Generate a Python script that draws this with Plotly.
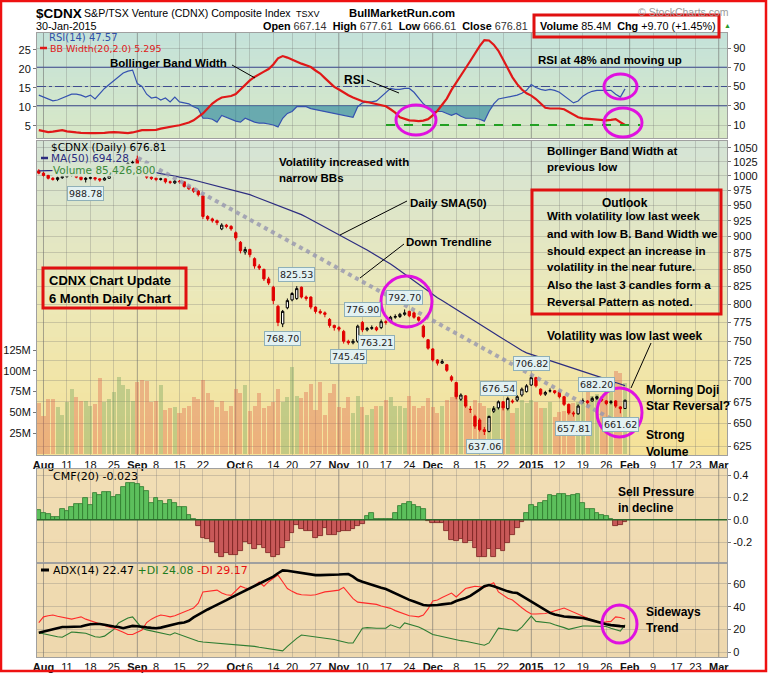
import numpy as np
import pandas as pd
import plotly.graph_objects as go

W, H = 769, 673

# ---------------- trading calendar (x scale) ----------------
FIRST_DAY = "2014-07-31"
LAST_AXIS_DAY = "2015-03-06"
TSX_HOLIDAYS = ["2014-08-04", "2014-09-01", "2014-10-13", "2014-12-25",
                "2014-12-26", "2015-01-01", "2015-02-16"]
TICK_DATES = ["2014-08-01", "2014-08-11", "2014-08-18", "2014-08-25", "2014-09-02", "2014-09-08",
              "2014-09-15", "2014-09-22", "2014-10-01", "2014-10-06", "2014-10-14", "2014-10-20",
              "2014-10-27", "2014-11-03", "2014-11-10", "2014-11-17", "2014-11-24", "2014-12-01",
              "2014-12-08", "2014-12-15", "2014-12-22", "2015-01-02", "2015-01-12", "2015-01-19",
              "2015-01-26", "2015-02-02", "2015-02-09", "2015-02-17", "2015-02-23", "2015-03-02"]
TICK_TEXT = ["<b>Aug</b>", "11", "18", "25", "<b>Sep</b>", "8", "15", "22", "<b>Oct</b>", "6", "14", "20",
             "27", "<b>Nov</b>", "10", "17", "24", "<b>Dec</b>", "8", "15", "22", "<b>2015</b>", "12", "19",
             "26", "<b>Feb</b>", "9", "17", "23", "<b>Mar</b>"]

# ---------------- daily data (31-Jul-2014 .. 30-Jan-2015) ----------------
OPEN = [1009, 1005, 1001, 996, 994, 997, 999, 1001, 1002, 998,
        994, 996, 997, 995, 993, 996, 1001, 1008, 1012, 1018,
        1023, 1030, 1010, 1003, 998, 996, 994, 995, 990, 988,
        991, 990, 982, 978, 974, 966, 932, 928, 925, 912,
        918, 916, 906, 891, 876, 880, 866, 855, 850, 836,
        824, 797, 773, 795, 806, 808, 824, 810, 810, 796,
        790, 788, 779, 771, 768, 763, 750, 748, 750, 775,
        765, 767, 768, 768, 776, 776, 782, 783, 786, 790,
        788, 782, 770, 752, 740, 726, 722, 720, 705, 698,
        678, 682, 666, 658, 654, 643, 641, 664, 668, 675,
        667, 676, 677, 683, 687, 695, 704, 690, 684, 688,
        688, 686, 681, 672, 662, 661, 675, 676, 676, 679,
        678, 676, 674, 676, 669, 667.14]
HIGH = [1012, 1007, 1002, 998, 999, 1001, 1003, 1004, 1003, 999,
        998, 999, 998, 996, 998, 1003, 1009, 1014, 1019, 1024,
        1027, 1036, 1012, 1005, 1000, 997, 997, 996, 992, 993,
        993, 991, 984, 980, 976, 968, 934, 930, 927, 921,
        920, 918, 908, 893, 884, 881, 868, 858, 851, 839,
        826, 799, 792, 808, 817, 825.53, 825, 812, 811, 797,
        793, 790, 781, 772, 770, 765, 752, 753, 772, 776.90,
        769, 771, 770, 779, 778, 784, 786, 788, 792.70, 791,
        790, 783, 772, 753, 741, 727, 727, 721, 707, 699,
        685, 683, 670, 660, 656, 646, 659, 670, 676.54, 676,
        681, 678, 683, 692, 696, 706.82, 705, 691, 688, 691,
        689, 688, 682, 673, 664, 672, 679, 677, 681, 682.20,
        680, 677, 677, 677, 670, 677.61]
LOW = [1003, 999, 994, 992, 991, 995, 997, 999, 996, 992,
       988.78, 994, 992, 990, 992, 995, 1000, 1006, 1010, 1016,
       1019, 1008, 1000, 995, 993, 991, 992, 987, 986, 986,
       987, 980, 976, 971, 965, 928, 925, 922, 918, 910,
       913, 909, 894, 874, 872, 868, 851, 849, 833, 827,
       800, 770, 768.70, 793, 804, 806, 808, 805, 793, 787,
       786, 782, 768, 764, 763, 747, 745.45, 746, 748, 762,
       763, 765, 763.21, 766, 772, 774, 780, 781, 784, 782,
       780, 776, 754, 739, 724, 719, 721, 711, 699, 678,
       676, 668, 662, 644, 641, 637.06, 640, 662, 666, 665,
       665, 673, 675, 681, 686, 694, 692, 682, 682, 686,
       684, 679, 670, 660, 657.81, 660, 673, 671, 675, 677,
       675, 671, 672, 668, 661.62, 666.61]
CLOSE = [1005, 1001, 996, 994, 997, 999, 1001, 1002, 998, 994,
         996, 997, 995, 993, 996, 1001, 1008, 1012, 1018, 1022,
         1024, 1010, 1003, 998, 996, 994, 995, 990, 989, 991,
         990, 982, 978, 974, 968, 932, 928, 925, 922, 918,
         916, 912, 898, 878, 880, 872, 855, 852, 836, 830,
         805, 775, 790, 805, 815, 822, 810, 808, 796, 790,
         788, 786, 771, 768, 766, 750, 748, 750, 770, 765,
         767, 768, 765, 776, 775, 782, 783, 786, 788, 784,
         782, 778, 756, 741, 726, 722, 724, 713, 701, 681,
         683, 670, 666, 647, 643, 641, 658, 667, 675, 668,
         679, 675, 681, 690, 694, 704, 694, 684, 686, 688,
         686, 681, 672, 662, 661, 670, 676, 674, 679, 681,
         677, 673, 675, 670, 667, 676.81]
VOLUME_M = [61, 45, 66, 66, 56, 47, 62, 78, 68, 64,
            64, 57, 60, 91, 62, 66, 75, 92, 83, 78,
            63, 87, 89, 88, 62, 63, 83, 53, 55, 56,
            49, 55, 58, 68, 66, 89, 73, 65, 56, 63,
            52, 58, 78, 73, 83, 52, 57, 73, 55, 57,
            62, 78, 62, 68, 104, 70, 67, 74, 84, 53,
            86, 47, 73, 84, 56, 55, 68, 49, 69, 56,
            47, 54, 57, 57, 65, 68, 57, 57, 55, 69,
            57, 55, 57, 67, 56, 49, 57, 65, 68, 75,
            65, 65, 55, 65, 61, 57, 55, 56, 56, 57,
            65, 49, 55, 65, 61, 65, 62, 55, 55, 62,
            44, 50, 52, 53, 61, 62, 61, 75, 69, 72,
            69, 72, 83, 100, 97, 85.4]
MA50 = [1009, 1009, 1010, 1010, 1010, 1011, 1011, 1011, 1012, 1012,
        1012, 1012, 1013, 1013, 1013, 1013, 1013, 1013, 1013, 1013,
        1012, 1011, 1010, 1009, 1007, 1006, 1004, 1003, 1001, 1000,
        998, 997, 995, 993, 991, 989, 987, 985, 983, 981,
        979, 977, 975, 973, 970, 968, 965, 962, 959, 956,
        953, 950, 947, 944, 941, 938, 935, 931, 927, 923,
        919, 915, 911, 907, 903, 899, 895, 891, 887, 883,
        879, 875, 871, 867, 863, 858, 853, 848, 843, 838,
        833, 828, 823, 818, 813, 809, 805, 801, 797, 793,
        789, 785, 781, 777, 773, 769, 765, 761, 757, 753,
        749, 745, 741, 738, 735, 733, 731, 729, 727, 725,
        723, 721, 719, 717, 715, 713, 711, 709, 707, 705,
        704, 701, 699, 698, 696, 694.28]
RSI14 = [41, 39, 37, 35, 36, 38, 40, 42, 42, 41,
         39, 41, 37, 43, 48, 52, 56, 60, 64, 66,
         67, 53, 50, 42, 38, 39, 36, 38, 34, 39,
         34, 33, 32, 29, 27, 17, 17, 16, 13, 20,
         18, 16, 14, 13, 17, 15, 13, 12, 12, 11,
         10, 8, 17, 22, 24, 29, 29, 29, 27, 26,
         25, 24, 23, 22, 21, 20, 19, 18, 29, 33,
         34, 34, 35, 39, 44, 48, 47, 47, 48, 48,
         44, 38, 32, 28, 24, 24, 24, 22, 20, 22,
         19, 17, 17, 17, 16, 14, 24, 32, 37, 38,
         39, 40, 41, 43, 46, 52, 49, 47, 46, 47,
         46, 44, 40, 36, 33, 35, 40, 43, 45, 46,
         46, 46, 46, 42, 39, 47.57]
BB_WIDTH = [3.9, 3.6, 3.4, 3.5, 3.8, 3.9, 3.6, 3.4, 3.3, 3.2,
            3.1, 3.1, 3.1, 3.1, 3.2, 3.3, 3.4, 3.3, 3.2, 3.1,
            3.3, 3.7, 3.9, 3.9, 3.9, 4.0, 4.3, 4.6, 4.8, 5.0,
            5.2, 5.5, 5.9, 6.5, 7.3, 8.3, 9.6, 10.9, 11.8, 12.5,
            12.7, 12.9, 13.4, 14.6, 15.8, 17.0, 17.9, 18.7, 19.3, 20.0,
            21.2, 22.8, 23.4, 23.0, 22.4, 21.8, 21.4, 21.0, 20.5, 19.6,
            18.8, 17.6, 16.4, 15.3, 14.6, 13.8, 13.1, 12.5, 11.9, 11.5,
            11.3, 11.0, 10.8, 10.5, 10.2, 9.4, 8.5, 7.3, 6.9, 6.5,
            6.4, 6.3, 6.4, 6.8, 7.8, 9.0, 10.6, 12.2, 14.5, 16.5,
            18.3, 20.2, 22.1, 24.2, 26.0, 27.6, 27.5, 26.4, 24.8, 22.5,
            20.0, 17.8, 16.0, 14.6, 13.6, 13.0, 12.1, 10.9, 9.8, 9.6,
            9.6, 9.6, 9.4, 8.7, 7.9, 7.3, 7.0, 6.9, 6.8, 6.6,
            6.5, 6.5, 6.6, 6.8, 6.0, 5.295]
CMF20 = [0.09, 0.06, 0.05, 0.02, 0.02, 0.10, 0.08, 0.11, 0.14, 0.14,
         0.19, 0.13, 0.24, 0.22, 0.25, 0.25, 0.20, 0.22, 0.29, 0.33,
         0.33, 0.32, 0.29, 0.26, 0.15, 0.19, 0.17, 0.14, 0.18, 0.15,
         0.11, 0.11, 0.04, 0.01, -0.06, -0.16, -0.17, -0.20, -0.30, -0.33,
         -0.30, -0.32, -0.32, -0.28, -0.20, -0.22, -0.26, -0.23, -0.25, -0.30,
         -0.33, -0.32, -0.25, -0.19, -0.12, -0.05, -0.08, -0.10, -0.10, -0.16,
         -0.15, -0.07, -0.14, -0.14, -0.11, -0.10, -0.10, -0.08, -0.06, -0.04,
         0.03, 0.06, 0.005, 0.004, 0.004, 0.01, 0.06, 0.12, 0.14, 0.16,
         0.13, 0.11, 0.10, -0.01, -0.03, -0.03, -0.03, -0.10, -0.18, -0.19,
         -0.17, -0.21, -0.19, -0.25, -0.33, -0.33, -0.26, -0.33, -0.26, -0.28,
         -0.21, -0.14, -0.07, -0.02, 0.06, 0.13, 0.11, 0.15, 0.17, 0.22,
         0.21, 0.23, 0.23, 0.21, 0.22, 0.23, 0.15, 0.10, 0.10, 0.06,
         0.04, 0.03, 0.01, -0.06, -0.05, -0.023]
ADX14 = [17, 18, 19, 20, 21, 22, 22, 22, 22, 22.5,
         23.5, 24.5, 24.7, 24.7, 24, 23, 22.5, 22, 21, 22,
         23, 22.7, 22, 21.7, 21.3, 21, 21.5, 22.5, 24, 24.8,
         25.5, 26, 27.5, 30.5, 33, 35.5, 37.5, 39.6, 41.5, 43.7,
         45.8, 48, 50, 52, 54, 56.5, 58.5, 60.5, 62.5, 64.5,
         66.5, 69.5, 72, 71.6, 71, 70, 69.5, 69, 68.3, 67.8,
         67.8, 67.8, 67.8, 68, 68.3, 68.6, 68.7, 66.5, 63.5, 62,
         60.5, 59, 57.7, 56.6, 55.5, 53.5, 51.5, 49.5, 47.5, 46,
         44.5, 43, 41.5, 41, 41, 41.5, 42, 42.5, 43, 45,
         46, 47.6, 49.5, 52, 55, 58, 59, 58, 56.5, 54.6,
         53.5, 52.5, 52, 49.5, 47, 44.5, 41.5, 39, 36.5, 34.5,
         33, 32, 31.3, 31, 30.7, 30.3, 30, 29, 27.8, 26.5,
         25.5, 24.5, 23.7, 23, 22.8, 22.47]
PLUS_DI = [17, 16, 15, 14, 13.5, 13, 15, 17.6, 17.3, 17,
           16.5, 15, 13.5, 13, 14, 17, 20, 25.6, 28, 30,
           31, 26, 21, 19.5, 18.5, 17.6, 16.5, 15.5, 15, 17,
           15.5, 14, 12.5, 11, 9.5, 8.8, 8.5, 8.2, 8, 7.7,
           7.4, 7, 6.7, 6.2, 6, 5.5, 5, 4.2, 3.5, 2.5,
           1.8, 1.2, 1, 5, 8.8, 12, 15, 14.5, 14, 13.5,
           13, 12.5, 12, 11, 10, 9, 8, 8, 14, 21,
           21.5, 21, 21, 21, 21, 24, 22.5, 21, 25.6, 24.5,
           23.5, 22, 20, 18, 15.5, 14.5, 13.5, 12.5, 11.5, 10.6,
           10, 9.5, 8.5, 7.5, 6.5, 6, 8, 15, 21, 20.5,
           20, 19, 18.5, 22, 27, 31.7, 27, 26.5, 26, 25.6,
           24, 23, 21.5, 20, 21, 22, 23, 23, 23, 23,
           23, 22.5, 21, 20, 18.5, 24.08]
MINUS_DI = [26, 31, 32, 32.6, 31.5, 30.5, 29.5, 29, 30, 31,
            29, 27.5, 26, 24.5, 23, 22, 21, 19.4, 17.5, 15.5,
            15.5, 17.5, 19.4, 26, 29, 31, 32.6, 32, 31, 32,
            33.5, 35, 37, 38.8, 43, 53, 53.5, 54, 54.6, 52,
            50.5, 50, 54, 58, 56.5, 55.5, 58.5, 61.7, 58, 62,
            65, 67.8, 62, 56, 53.5, 51.5, 50.5, 50, 50, 50.5,
            52, 53, 53.5, 54, 54.6, 57, 52, 47, 44, 43.5,
            43.5, 43, 42, 40.5, 39.6, 38.5, 36.5, 35, 33.5, 32,
            31.5, 31, 32.6, 38, 45, 45.8, 48, 50, 52, 48.5,
            52, 56, 57, 58, 57.5, 57, 59, 61, 53, 50,
            47.5, 45.8, 42, 39, 36, 33.5, 33.5, 33.7, 34, 35,
            36.5, 37.5, 38.8, 37, 35, 33, 31, 29.5, 28, 27,
            26.4, 26.6, 27, 31, 30.5, 29.17]

# swing-point value labels: (trading-day index, value, is_high)
LABEL_IDX = [10, 55, 52, 69, 66, 72, 78, 95, 98, 105, 114, 119, 124]
LABEL_VAL = [988.78, 825.53, 768.70, 776.90, 745.45, 763.21, 792.70, 637.06, 676.54, 706.82, 657.81, 682.20, 661.62]
LABEL_HIGH = [False, True, False, True, False, False, True, False, True, True, False, True, False]

# hand-drawn down trendline (day index, price)
TREND_IDX = [21.15, 125.2]
TREND_PRICE = [1032, 646]

N = len(CLOSE)
for arr in (OPEN, HIGH, LOW, VOLUME_M, MA50, RSI14, BB_WIDTH, CMF20, ADX14, PLUS_DI, MINUS_DI):
    assert len(arr) == N, len(arr)

days = [d for d in pd.bdate_range(FIRST_DAY, LAST_AXIS_DAY) if d.strftime("%Y-%m-%d") not in TSX_HOLIDAYS]
pos = {d.strftime("%Y-%m-%d"): i for i, d in enumerate(days)}
TICK_VALS = [pos[d] for d in TICK_DATES]
MONTH_VALS = [v for v, t in zip(TICK_VALS, TICK_TEXT) if t.startswith("<b>")]
X = np.arange(N)

# ---------------- geometry (pixels) ----------------
PX_L, PX_R = 37, 727
RSI_T, RSI_B = 33, 138
MAIN_T, MAIN_B = 141, 455
CMF_T, CMF_B = 469, 563
ADX_T, ADX_B = 563, 657
X_RANGE = [-0.384, 146.74]


def fx(x):
    return x / W


def fy(y):
    return 1 - y / H


def dom(t, b):
    return [fy(b), fy(t)]


FONT = "Liberation Sans, Arial, sans-serif"
LFONT = "DejaVu Sans, Verdana, sans-serif"
GRID = "rgba(110,110,110,0.28)"
BORDER = "#a0a0a0"

fig = go.Figure()

# ---------------- RSI panel ----------------
fig.add_trace(go.Scatter(x=X, y=[30] * N, mode="lines", line=dict(width=0), xaxis="x", yaxis="y",
                         hoverinfo="skip", showlegend=False))
fig.add_trace(go.Scatter(x=X, y=np.minimum(np.array(RSI14), 30), mode="lines", line=dict(width=0),
                         fill="tonexty", fillcolor="rgba(70,150,165,0.75)", xaxis="x", yaxis="y",
                         hoverinfo="skip", showlegend=False))
fig.add_trace(go.Scatter(x=X, y=RSI14, mode="lines", line=dict(color="#3552b0", width=1.2),
                         xaxis="x", yaxis="y", showlegend=False))
fig.add_trace(go.Scatter(x=X, y=BB_WIDTH, mode="lines", line=dict(color="#e01818", width=2.2),
                         xaxis="x", yaxis="y2", showlegend=False))

# ---------------- main panel ----------------
vol_colors = []
for i in range(N):
    up = i > 0 and CLOSE[i] >= CLOSE[i - 1]
    vol_colors.append("rgba(120,165,95,0.40)" if up else "rgba(222,105,80,0.40)")
fig.add_trace(go.Bar(x=X, y=VOLUME_M, marker=dict(color=vol_colors, line=dict(width=0)), width=0.86,
                     xaxis="x2", yaxis="y3", showlegend=False, hoverinfo="skip"))
fig.add_trace(go.Scatter(x=X, y=MA50, mode="lines", line=dict(color="#2c2c80", width=1.2),
                         xaxis="x2", yaxis="y4", showlegend=False))
fig.add_trace(go.Scatter(x=TREND_IDX, y=TREND_PRICE, mode="lines",
                         line=dict(color="rgba(150,150,175,0.8)", width=4, dash="dot"),
                         xaxis="x2", yaxis="y4", showlegend=False, hoverinfo="skip"))
fig.add_trace(go.Candlestick(x=X, open=OPEN, high=HIGH, low=LOW, close=CLOSE,
                             increasing=dict(line=dict(color="black", width=1), fillcolor="white"),
                             decreasing=dict(line=dict(color="#e00000", width=1), fillcolor="#e00000"),
                             whiskerwidth=0, xaxis="x2", yaxis="y4", showlegend=False))

# ---------------- CMF panel ----------------
cmf_fill = ["#5cbf5c" if v >= 0 else "#c85858" for v in CMF20]
cmf_line = ["#2d7a2d" if v >= 0 else "#7a2020" for v in CMF20]
fig.add_trace(go.Bar(x=X, y=CMF20, marker=dict(color=cmf_fill, line=dict(color=cmf_line, width=0.8)),
                     width=1.0, xaxis="x3", yaxis="y5", showlegend=False))

# ---------------- ADX panel ----------------
fig.add_trace(go.Scatter(x=X, y=PLUS_DI, mode="lines", line=dict(color="#2e7d32", width=1.1),
                         xaxis="x4", yaxis="y6", showlegend=False))
fig.add_trace(go.Scatter(x=X, y=MINUS_DI, mode="lines", line=dict(color="#ff2a2a", width=1.1),
                         xaxis="x4", yaxis="y6", showlegend=False))
fig.add_trace(go.Scatter(x=X, y=ADX14, mode="lines", line=dict(color="black", width=2.6),
                         xaxis="x4", yaxis="y6", showlegend=False))

# ---------------- shapes ----------------
shapes = []


def lerp_color(stops, t):
    for (t0, c0), (t1, c1) in zip(stops[:-1], stops[1:]):
        if t0 <= t <= t1:
            u = (t - t0) / (t1 - t0) if t1 > t0 else 0
            return "rgb(%d,%d,%d)" % tuple(round(a + (b - a) * u) for a, b in zip(c0, c1))
    return "rgb(%d,%d,%d)" % stops[-1][1]


def gradient(top, bot, stops, n=40):
    for k in range(n):
        y0 = top + (bot - top) * k / n
        y1 = top + (bot - top) * (k + 1) / n + 0.7
        shapes.append(dict(type="rect", xref="paper", yref="paper", layer="below",
                           x0=fx(PX_L), x1=fx(PX_R), y0=fy(min(y1, bot)), y1=fy(y0),
                           fillcolor=lerp_color(stops, (k + 0.5) / n), line=dict(width=0)))


gradient(RSI_T, RSI_B, [(0, (196, 226, 218)), (1, (216, 232, 198))])
gradient(MAIN_T, MAIN_B, [(0, (212, 228, 214)), (0.5, (236, 232, 184)), (1, (246, 226, 152))])
gradient(CMF_T, CMF_B, [(0, (241, 221, 180)), (1, (239, 218, 176))], n=4)
gradient(ADX_T, ADX_B, [(0, (240, 219, 178)), (1, (238, 216, 174))], n=4)

# darker month grid lines
for xr, (t, b) in zip(["x", "x2", "x3", "x4"], [(RSI_T, RSI_B), (MAIN_T, MAIN_B), (CMF_T, CMF_B), (ADX_T, ADX_B)]):
    for mv in MONTH_VALS:
        shapes.append(dict(type="line", xref=xr, yref="paper", layer="below", x0=mv, x1=mv,
                           y0=fy(b), y1=fy(t), line=dict(color="rgba(90,90,90,0.35)", width=1)))

# RSI reference lines
for lv, dsh in [(70, "solid"), (30, "solid"), (50, "dashdot")]:
    shapes.append(dict(type="line", xref="paper", yref="y", x0=fx(PX_L), x1=fx(PX_R), y0=lv, y1=lv,
                       layer="below", line=dict(color="#2d3f9a", width=1.2, dash=dsh)))
# CMF zero line
shapes.append(dict(type="line", xref="paper", yref="y5", x0=fx(PX_L), x1=fx(PX_R), y0=0, y1=0,
                   layer="above", line=dict(color="#2d6a2d", width=1.5)))


def pline(x0, y0, x1, y1, color="black", width=1, dash="solid"):
    shapes.append(dict(type="line", xref="paper", yref="paper", x0=fx(x0), y0=fy(y0), x1=fx(x1), y1=fy(y1),
                       line=dict(color=color, width=width, dash=dash), layer="above"))


def prect(x0, y0, x1, y1, color, width):
    shapes.append(dict(type="rect", xref="paper", yref="paper", x0=fx(x0), y0=fy(y1), x1=fx(x1), y1=fy(y0),
                       line=dict(color=color, width=width), fillcolor="rgba(0,0,0,0)", layer="above"))


def pellipse(x0, y0, x1, y1):
    shapes.append(dict(type="circle", xref="paper", yref="paper", x0=fx(x0), y0=fy(y1), x1=fx(x1), y1=fy(y0),
                       line=dict(color="#e010e0", width=3), fillcolor="rgba(0,0,0,0)", layer="above"))


# green dashed BB-width low line
pline(386, 125, 640, 125, color="#22a022", width=2, dash="dash")
# pointer lines
pline(232, 65, 255, 78)
pline(367, 80, 399, 93)
pline(407, 201, 340, 235)
pline(404, 244, 360, 278)
pline(651, 343, 631, 388)
# ellipses
pellipse(604, 74, 637, 99)
pellipse(604, 108, 642, 137)
pellipse(396, 105, 436, 135)
pellipse(381, 276, 432, 327)
pellipse(597, 388, 642, 437)
pellipse(602, 605, 637, 643)
# red boxes
prect(534, 15, 719, 37, "#e01010", 3)
prect(43, 268, 186, 308, "#e01010", 3)
prect(532, 190, 721, 314, "#e01010", 3)
prect(1, 1, 766, 671, "#ee1111", 2.5)
# legend line icons
pline(40, 48, 47, 48, color="#e01818", width=2.5)
pline(41, 158, 48, 158, color="#2c2c80", width=2.5)
pline(41, 570, 49, 570, color="black", width=3)

# ---------------- annotations ----------------
ann = []


def text(x, y, s, size=11.5, color="black", family=FONT, xanchor="left", bold=False, bg=None):
    d = dict(xref="paper", yref="paper", x=fx(x), y=fy(y), text=("<b>%s</b>" % s) if bold else s,
             showarrow=False, xanchor=xanchor, yanchor="middle",
             font=dict(family=family, size=size, color=color), borderpad=0)
    if bg:
        d["bgcolor"] = bg
    ann.append(d)


# header
text(35, 13, "$CDNX", size=13.5, bold=True)
text(83, 13, "S&P/TSX Venture (CDNX) Composite Index", size=10.6)
text(295, 14, "TSXV", size=9)
text(348, 13, "BullMarketRun.com", size=11.3, bold=True)
text(637, 12, "© StockCharts.com", size=10.5, color="#9a9a9a")
text(35, 26, "30-Jan-2015", size=10.8)
text(262, 26, "<b>Open</b> <span style='color:#333'>667.14</span>  <b>High</b> <span style='color:#333'>677.61</span>  "
              "<b>Low</b> <span style='color:#333'>666.61</span>  <b>Close</b> <span style='color:#333'>676.81</span>",
     size=10.8)
text(539, 26, "<b>Volume</b> 85.4M  <b>Chg</b> +9.70 (+1.45%)", size=10.8)
text(723, 26, "▲", size=7, color="#2a9a2a")

# panel legends
text(48, 37.5, "RSI(14) 47.57", size=10, color="#3050a8", family=LFONT)
text(49, 48.5, "BB Width(20,2.0) 5.295", size=9.5, color="#e01818", family=LFONT)
text(50, 147, "$CDNX (Daily) 676.81", size=10.5, family=LFONT)
text(50, 158, "MA(50) 694.28", size=10.5, color="#2c2c80", family=LFONT)
text(52, 169.5, "Volume 85,426,800", size=10.5, color="#3a8a3a", family=LFONT, bg="rgba(216,229,208,0.95)")
text(52, 476, "CMF(20) -0.023", size=11, family=LFONT)
text(52, 570, "ADX(14) 22.47 <span style='color:#1e7b1e'>+DI 24.08</span> "
              "<span style='color:#e81010'>-DI 29.17</span>", size=11, family=LFONT)

# commentary
text(109, 63, "Bollinger Band Width", bold=True)
text(343, 80, "RSI", size=12, bold=True)
text(537, 60, "RSI at 48% and moving up", bold=True)
text(546, 151, "Bollinger Band Width at", bold=True)
text(546, 167, "previous low", bold=True)
text(278, 162, "Volatility increased with", bold=True)
text(278, 178, "narrow BBs", bold=True)
text(409, 203, "Daily SMA(50)", bold=True)
text(405, 242, "Down Trendline", bold=True)
text(48, 280, "CDNX Chart Update", size=13, bold=True)
text(48, 298, "6 Month Daily Chart", size=13, bold=True)
text(625, 203, "Outlook", size=12, bold=True, xanchor="center")
for k, line in enumerate(["With volatility low last week", "and with low B. Band Width we",
                          "should expect an increase in", "volatility in the near future.",
                          "Also the last 3 candles form a", "Reversal Pattern as noted."]):
    text(546, 216 + k * 17, line, size=11.6, bold=True)
text(546, 336, "Volatility was low last week", size=12, bold=True)
text(645, 390, "Morning Doji", size=12, bold=True)
text(645, 406, "Star Reversal?", size=12, bold=True)
text(645, 435, "Strong", size=12, bold=True)
text(645, 452, "Volume", size=12, bold=True)
text(617, 492, "Sell Pressure", size=12, bold=True)
text(617, 508, "in decline", size=12, bold=True)
text(645, 612, "Sideways", size=12, bold=True)
text(645, 628, "Trend", size=12, bold=True)

# swing value labels
for i, v, hi in zip(LABEL_IDX, LABEL_VAL, LABEL_HIGH):
    ann.append(dict(xref="x2", yref="y4", x=i, y=np.log10(v), text="%.2f" % v, showarrow=False,
                    xanchor="center", yanchor="bottom" if hi else "top", yshift=4 if hi else -4,
                    font=dict(family=LFONT, size=9.5, color="#222"), bgcolor="#e2f1f2",
                    bordercolor="#8fb0b8", borderwidth=1, borderpad=1))

# ---------------- axes ----------------
tickfont = dict(family=FONT, size=11, color="#111")


def xax(anchor, labels):
    return dict(domain=[fx(PX_L), fx(PX_R)], range=X_RANGE, anchor=anchor, tickmode="array",
                tickvals=TICK_VALS, ticktext=TICK_TEXT, showticklabels=labels, ticks="", tickangle=0,
                automargin=False, showgrid=True, gridcolor=GRID, gridwidth=1, zeroline=False, showline=True,
                linecolor=BORDER, mirror=True, tickfont=dict(family=FONT, size=11, color="#111"),
                rangeslider=dict(visible=False))


def yax(**kw):
    base = dict(zeroline=False, ticks="outside", ticklen=3, tickcolor="#777", tickfont=tickfont,
                automargin=False)
    base.update(kw)
    return base


price_ticks = [625, 650, 675, 700, 725, 750, 775, 800, 825, 850, 875, 900, 925, 950, 975, 1000, 1025, 1050]

fig.update_layout(
    width=W, height=H, autosize=False, margin=dict(l=0, r=0, t=0, b=0, autoexpand=False),
    paper_bgcolor="white", plot_bgcolor="rgba(0,0,0,0)", showlegend=False,
    bargap=0, hovermode=False,
    xaxis=xax("y", False),
    xaxis2=xax("y3", True),
    xaxis3=xax("y5", False),
    xaxis4=xax("y6", True),
    yaxis=yax(domain=dom(RSI_T, RSI_B), anchor="x", side="right", range=[-3.51, 105.58],
              tickvals=[10, 30, 50, 70, 90], showgrid=True, gridcolor=GRID, showline=True,
              linecolor=BORDER, mirror=True),
    yaxis2=yax(overlaying="y", anchor="x", side="left", range=[1.84, 29.47], tickvals=[5, 10, 15, 20, 25],
               showgrid=False),
    yaxis3=yax(domain=dom(MAIN_T, MAIN_B), anchor="x2", side="left", range=[-1.5, 376.8],
               tickvals=[25, 50, 75, 100, 125], ticktext=["25M", "50M", "75M", "100M", "125M"],
               showgrid=False, showline=True, linecolor=BORDER, mirror=True),
    yaxis4=yax(overlaying="y3", anchor="x2", side="right", type="log",
               range=[np.log10(615.3), np.log10(1062.8)], tickvals=price_ticks,
               ticktext=[str(t) for t in price_ticks], showgrid=True, gridcolor=GRID),
    yaxis5=yax(domain=dom(CMF_T, CMF_B), anchor="x3", side="right", range=[-0.388, 0.454],
               tickvals=[-0.2, 0, 0.2, 0.4], ticktext=["-0.2", "0.0", "0.2", "0.4"], showgrid=True,
               gridcolor=GRID, showline=True, linecolor=BORDER, mirror=True),
    yaxis6=yax(domain=dom(ADX_T, ADX_B), anchor="x4", side="right", range=[-4.4, 78.5],
               tickvals=[0, 20, 40, 60], showgrid=True, gridcolor=GRID, showline=True, linecolor=BORDER,
               mirror=True),
    shapes=shapes, annotations=ann,
)

fig.write_html("out.html")
